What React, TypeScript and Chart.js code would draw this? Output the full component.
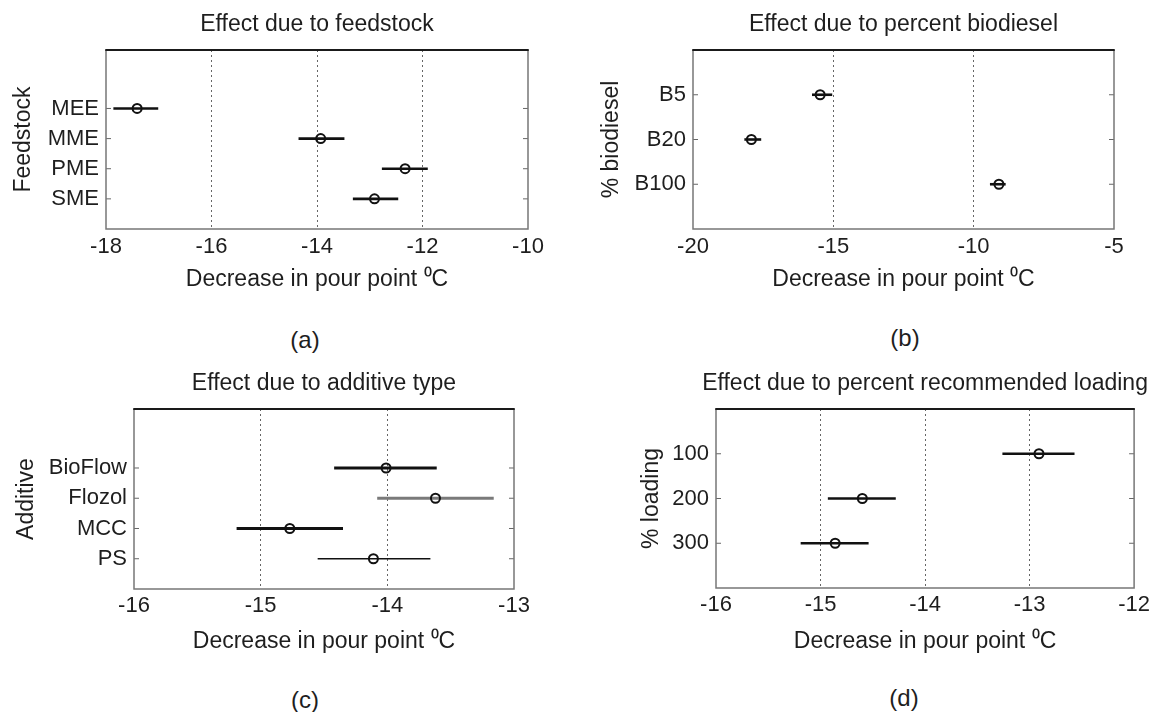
import React, { useEffect, useRef } from "react";
import { Chart, registerables } from "chart.js";

Chart.register(...registerables);
Chart.defaults.font.family = "'Liberation Sans', Arial, sans-serif";
Chart.defaults.color = "#1e1e1e";

// ---------- data ----------
const feedstockCats = ["MEE", "MME", "PME", "SME"];
const feedstockMean = [-17.41, -13.93, -12.33, -12.91];
const feedstockLow = [-17.86, -14.35, -12.77, -13.32];
const feedstockHigh = [-17.01, -13.48, -11.9, -12.46];
const feedstockXTicks = [-18, -16, -14, -12, -10];

const biodieselCats = ["B5", "B20", "B100"];
const biodieselMean = [-15.47, -17.92, -9.1];
const biodieselLow = [-15.76, -18.17, -9.42];
const biodieselHigh = [-15.04, -17.57, -8.86];
const biodieselXTicks = [-20, -15, -10, -5];

const additiveCats = ["BioFlow", "Flozol", "MCC", "PS"];
const additiveMean = [-14.01, -13.62, -14.77, -14.11];
const additiveLow = [-14.42, -14.08, -15.19, -14.55];
const additiveHigh = [-13.61, -13.16, -14.35, -13.66];
const additiveXTicks = [-16, -15, -14, -13];

const loadingLevels = [100, 200, 300];
const loadingMean = [-12.91, -14.6, -14.86];
const loadingLow = [-13.26, -14.93, -15.19];
const loadingHigh = [-12.57, -14.28, -14.54];
const loadingXTicks = [-16, -15, -14, -13, -12];

// ---------- styles ----------
const feedstockColors = ["#111", "#111", "#111", "#111"];
const feedstockWidths = [2.6, 2.6, 2.6, 2.6];
const biodieselColors = ["#111", "#111", "#111"];
const biodieselWidths = [2.6, 2.6, 2.6];
const additiveColors = ["#111", "#7a7a7a", "#111", "#111"];
const additiveWidths = [3, 3, 3, 1.7];
const loadingColors = ["#111", "#111", "#111"];
const loadingWidths = [2.6, 2.6, 2.6];

const X_TITLE = "Decrease in pour point \u2070C";

type Layout = {
  left: number; top: number; width: number; height: number;
  plotLeft: number; plotRight: number; plotTop: number; plotBottom: number;
  yTitleX: number; xTitleY: number; xTickPad: number;
};

type PanelSpec = {
  labels: string[];
  yValues: number[];
  mean: number[]; low: number[]; high: number[];
  xTicks: number[];
  yMin: number; yMax: number;
  title: string; yTitle: string;
  colors: string[]; widths: number[];
  layout: Layout;
};

const panels: PanelSpec[] = [
  {
    labels: feedstockCats, yValues: feedstockCats.map((_, i) => i + 1),
    mean: feedstockMean, low: feedstockLow, high: feedstockHigh, xTicks: feedstockXTicks,
    yMin: -0.94, yMax: 5, title: "Effect due to feedstock", yTitle: "Feedstock",
    colors: feedstockColors, widths: feedstockWidths,
    layout: { left: 0, top: 0, width: 577, height: 300, plotLeft: 106, plotRight: 528, plotTop: 50, plotBottom: 229, yTitleX: 23.5, xTitleY: 280, xTickPad: 5 },
  },
  {
    labels: biodieselCats, yValues: biodieselCats.map((_, i) => i + 1),
    mean: biodieselMean, low: biodieselLow, high: biodieselHigh, xTicks: biodieselXTicks,
    yMin: 0, yMax: 4, title: "Effect due to percent biodiesel", yTitle: "% biodiesel",
    colors: biodieselColors, widths: biodieselWidths,
    layout: { left: 577, top: 0, width: 577, height: 300, plotLeft: 693, plotRight: 1114, plotTop: 50, plotBottom: 229, yTitleX: 612, xTitleY: 280, xTickPad: 5 },
  },
  {
    labels: additiveCats, yValues: additiveCats.map((_, i) => i + 1),
    mean: additiveMean, low: additiveLow, high: additiveHigh, xTicks: additiveXTicks,
    yMin: -0.95, yMax: 5, title: "Effect due to additive type", yTitle: "Additive",
    colors: additiveColors, widths: additiveWidths,
    layout: { left: 0, top: 356, width: 577, height: 300, plotLeft: 134, plotRight: 514, plotTop: 409, plotBottom: 589, yTitleX: 26.5, xTitleY: 642, xTickPad: 4 },
  },
  {
    labels: loadingLevels.map(String), yValues: loadingLevels,
    mean: loadingMean, low: loadingLow, high: loadingHigh, xTicks: loadingXTicks,
    yMin: 0, yMax: 400, title: "Effect due to percent recommended loading", yTitle: "% loading",
    colors: loadingColors, widths: loadingWidths,
    layout: { left: 577, top: 356, width: 577, height: 300, plotLeft: 716, plotRight: 1137, plotTop: 409, plotBottom: 588, yTitleX: 652, xTitleY: 642, xTickPad: 4 },
  },
];

const subLabels = [
  { text: "(a)", x: 305, y: 340 },
  { text: "(b)", x: 905, y: 338 },
  { text: "(c)", x: 305, y: 700 },
  { text: "(d)", x: 904, y: 698 },
];

const TICK_FONT = 22;
const TITLE_FONT = 23;
const LH = 1.2;

const framePlugin = {
  id: "frame",
  beforeDatasetsDraw(chart: any) {
    const { ctx, chartArea: a, scales } = chart;
    const y = scales.y;
    ctx.save();
    // inward tick marks on y
    ctx.strokeStyle = "#666";
    ctx.lineWidth = 1;
    y.ticks.forEach((t: any) => {
      const py = y.getPixelForValue(t.value);
      ctx.beginPath();
      ctx.moveTo(a.left, py);
      ctx.lineTo(a.left + 5, py);
      ctx.moveTo(a.right - 5, py);
      ctx.lineTo(a.right, py);
      ctx.stroke();
    });
    // box
    ctx.strokeStyle = "#777";
    ctx.lineWidth = 1.5;
    ctx.beginPath();
    ctx.moveTo(a.left, a.top);
    ctx.lineTo(a.left, a.bottom);
    ctx.lineTo(a.right, a.bottom);
    ctx.lineTo(a.right, a.top);
    ctx.stroke();
    ctx.strokeStyle = "#1a1a1a";
    ctx.lineWidth = 2;
    ctx.beginPath();
    ctx.moveTo(a.left - 0.75, a.top);
    ctx.lineTo(a.right + 0.75, a.top);
    ctx.stroke();
    ctx.restore();
  },
};

const panelTitlePlugin = {
  id: "panelTitle",
  afterDraw(chart: any, _args: any, opts: any) {
    const { ctx, chartArea: a } = chart;
    ctx.save();
    ctx.font = `${TITLE_FONT}px 'Liberation Sans', Arial, sans-serif`;
    ctx.fillStyle = "#1e1e1e";
    ctx.textAlign = "center";
    ctx.textBaseline = "middle";
    ctx.fillText(opts.text, (a.left + a.right) / 2, a.top - 25);
    ctx.restore();
  },
};

function Panel({ spec }: { spec: PanelSpec }) {
  const ref = useRef<HTMLCanvasElement>(null);
  useEffect(() => {
    if (!ref.current) return;
    const L = spec.layout;
    const xMin = spec.xTicks[0];
    const xMax = spec.xTicks[spec.xTicks.length - 1];
    const lh = TITLE_FONT * LH;
    const datasets: any[] = [
      {
        label: "mean",
        data: spec.mean.map((m, i) => ({ x: m, y: spec.yValues[i] })),
        showLine: false,
        pointRadius: 4.5,
        pointHoverRadius: 4.5,
        pointBorderWidth: 2,
        pointBorderColor: "#111",
        pointBackgroundColor: "rgba(0,0,0,0)",
      },
      ...spec.low.map((lo, i) => ({
        label: spec.labels[i],
        data: [
          { x: lo, y: spec.yValues[i] },
          { x: spec.high[i], y: spec.yValues[i] },
        ],
        showLine: true,
        borderColor: spec.colors[i],
        borderWidth: spec.widths[i],
        pointRadius: 0,
        pointHoverRadius: 0,
      })),
    ];
    const chart = new Chart(ref.current, {
      type: "scatter",
      data: { datasets },
      plugins: [framePlugin, panelTitlePlugin],
      options: {
        responsive: false,
        animation: false,
        events: [],
        layout: {
          padding: {
            left: 0,
            right: L.left + L.width - L.plotRight,
            top: L.plotTop - L.top,
            bottom: 0,
          },
        },
        plugins: {
          legend: { display: false },
          tooltip: { enabled: false },
          title: { display: false },
          panelTitle: { text: spec.title },
        } as any,
        scales: {
          x: {
            type: "linear",
            min: xMin,
            max: xMax,
            afterBuildTicks: (s: any) => {
              s.ticks = spec.xTicks.map((v) => ({ value: v }));
            },
            afterFit: (s: any) => {
              s.height = L.top + L.height - L.plotBottom;
            },
            ticks: {
              font: { size: TICK_FONT },
              color: "#1e1e1e",
              padding: L.xTickPad,
              maxRotation: 0,
              autoSkip: false,
            },
            grid: {
              color: (c: any) =>
                c.tick && (c.tick.value === xMin || c.tick.value === xMax) ? "rgba(0,0,0,0)" : "#666",
              lineWidth: 1,
              drawTicks: false,
            },
            border: { display: false, dash: [2, 3] },
            title: {
              display: true,
              text: X_TITLE,
              font: { size: TITLE_FONT },
              color: "#1e1e1e",
              padding: { top: 0, bottom: L.top + L.height - lh / 2 - L.xTitleY },
            },
          },
          y: {
            type: "linear",
            reverse: true,
            min: spec.yMin,
            max: spec.yMax,
            afterBuildTicks: (s: any) => {
              s.ticks = spec.yValues.map((v) => ({ value: v }));
            },
            afterFit: (s: any) => {
              s.width = L.plotLeft - L.left;
            },
            ticks: {
              font: { size: TICK_FONT },
              color: "#1e1e1e",
              padding: 7,
              autoSkip: false,
              callback: (v: any) => {
                const i = spec.yValues.indexOf(Number(v));
                return i >= 0 ? spec.labels[i] : "";
              },
            },
            grid: { display: false, drawTicks: false },
            border: { display: false },
            title: {
              display: true,
              text: spec.yTitle,
              font: { size: TITLE_FONT },
              color: "#1e1e1e",
              padding: { top: L.yTitleX - L.left - lh / 2, bottom: 0 },
            },
          },
        },
      } as any,
    });
    return () => chart.destroy();
  }, [spec]);
  const L = spec.layout;
  return (
    <canvas
      ref={ref}
      width={L.width}
      height={L.height}
      style={{ position: "absolute", left: L.left, top: L.top, width: L.width, height: L.height }}
    />
  );
}

export default function App() {
  return (
    <div
      style={{
        position: "absolute",
        left: 0,
        top: 0,
        width: 1154,
        height: 712,
        background: "#fff",
        overflow: "hidden",
      }}
    >
      {panels.map((p, i) => (
        <Panel key={i} spec={p} />
      ))}
      {subLabels.map((s) => (
        <div
          key={s.text}
          style={{
            position: "absolute",
            left: s.x,
            top: s.y,
            transform: "translate(-50%, -50%)",
            fontFamily: "'Liberation Sans', Arial, sans-serif",
            fontSize: 24,
            lineHeight: 1,
            color: "#1e1e1e",
            whiteSpace: "nowrap",
          }}
        >
          {s.text}
        </div>
      ))}
    </div>
  );
}
